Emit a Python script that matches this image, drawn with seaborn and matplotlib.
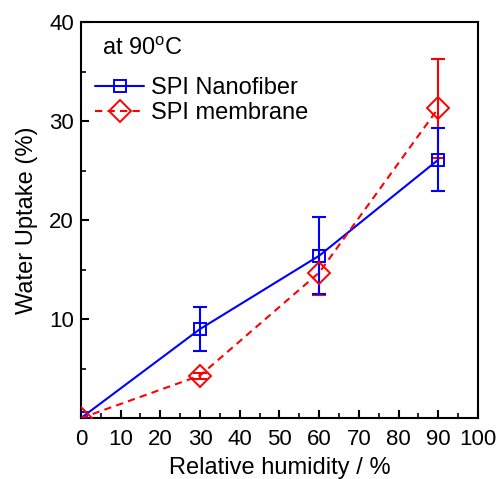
import matplotlib
matplotlib.use("Agg")
import matplotlib.pyplot as plt
import seaborn as sns
import pandas as pd
from matplotlib.ticker import MultipleLocator

# datos
humidity = [0, 30, 60, 90]
nanofiber = [0.0, 9.0, 16.4, 26.1]
nanofiber_err = [0.0, 2.2, 3.9, 3.2]
membrane = [0.0, 4.3, 14.7, 31.3]
membrane_err = [0.0, 0.3, 2.3, 5.0]

sns.set_style("ticks")
plt.rcParams['font.family'] = ['Liberation Sans', 'DejaVu Sans']
plt.rcParams['mathtext.fontset'] = 'custom'
plt.rcParams['mathtext.rm'] = 'Liberation Sans'
plt.rcParams['text.color'] = 'black'
plt.rcParams['axes.labelcolor'] = 'black'
plt.rcParams['xtick.color'] = 'black'
plt.rcParams['ytick.color'] = 'black'
plt.rcParams['axes.edgecolor'] = 'black'

fig = plt.figure(figsize=(4.99, 4.79), dpi=100)
ax = fig.add_axes([0.162, 0.127, 0.796, 0.827])

df = pd.DataFrame({
    "humidity": humidity * 2,
    "uptake": nanofiber + membrane,
    "serie": ["SPI Nanofiber"] * 4 + ["SPI membrane"] * 4,
})

sns.lineplot(data=df[df.serie == "SPI Nanofiber"], x="humidity", y="uptake",
             ax=ax, color="#0000ff", marker="s", markersize=8.5,
             markerfacecolor="none", markeredgecolor="#0000ff", markeredgewidth=1.4,
             linewidth=1.5, label="SPI Nanofiber", zorder=3)
sns.lineplot(data=df[df.serie == "SPI membrane"], x="humidity", y="uptake",
             ax=ax, color="#ff0000", marker="D", markersize=11,
             markerfacecolor="none", markeredgecolor="#ff0000", markeredgewidth=1.4,
             linewidth=1.5, linestyle=(0, (3.5, 2.5)), label="SPI membrane", zorder=3)

ax.errorbar(humidity, membrane, yerr=membrane_err, fmt="none", ecolor="#ff0000",
            elinewidth=1.5, capsize=5, capthick=1.5, zorder=2)
ax.errorbar(humidity, nanofiber, yerr=nanofiber_err, fmt="none", ecolor="#0000ff",
            elinewidth=1.5, capsize=5, capthick=1.5, zorder=2)

ax.set_xlim(0, 100)
ax.set_ylim(0, 40)
ax.xaxis.set_major_locator(MultipleLocator(10))
ax.xaxis.set_minor_locator(MultipleLocator(5))
ax.set_yticks([10, 20, 30, 40])
ax.yaxis.set_minor_locator(MultipleLocator(5))
ax.tick_params(which="major", direction="in", length=6, width=1.5, labelsize=16)
ax.tick_params(axis="x", pad=8)
ax.tick_params(axis="y", pad=5)
ax.tick_params(which="minor", direction="in", length=3.5, width=1.2)
ax.tick_params(top=False, right=False, which="both")
for s in ax.spines.values():
    s.set_linewidth(1.5)
    s.set_visible(True)

ax.set_xlabel("Relative humidity / %", fontsize=17, labelpad=5)
ax.set_ylabel("Water Uptake (%)", fontsize=17, labelpad=8)

ax.text(0.053, 0.917, r"at 90$^\mathregular{o}$C", transform=ax.transAxes,
        fontsize=17, va="baseline", ha="left")

leg = ax.legend(loc="upper left", bbox_to_anchor=(0.035, 0.86), frameon=False,
                fontsize=17, handlelength=2.1, handletextpad=0.3,
                labelspacing=0.1, borderaxespad=0.0, borderpad=0.0)

plt.savefig("out.png", dpi=100)
